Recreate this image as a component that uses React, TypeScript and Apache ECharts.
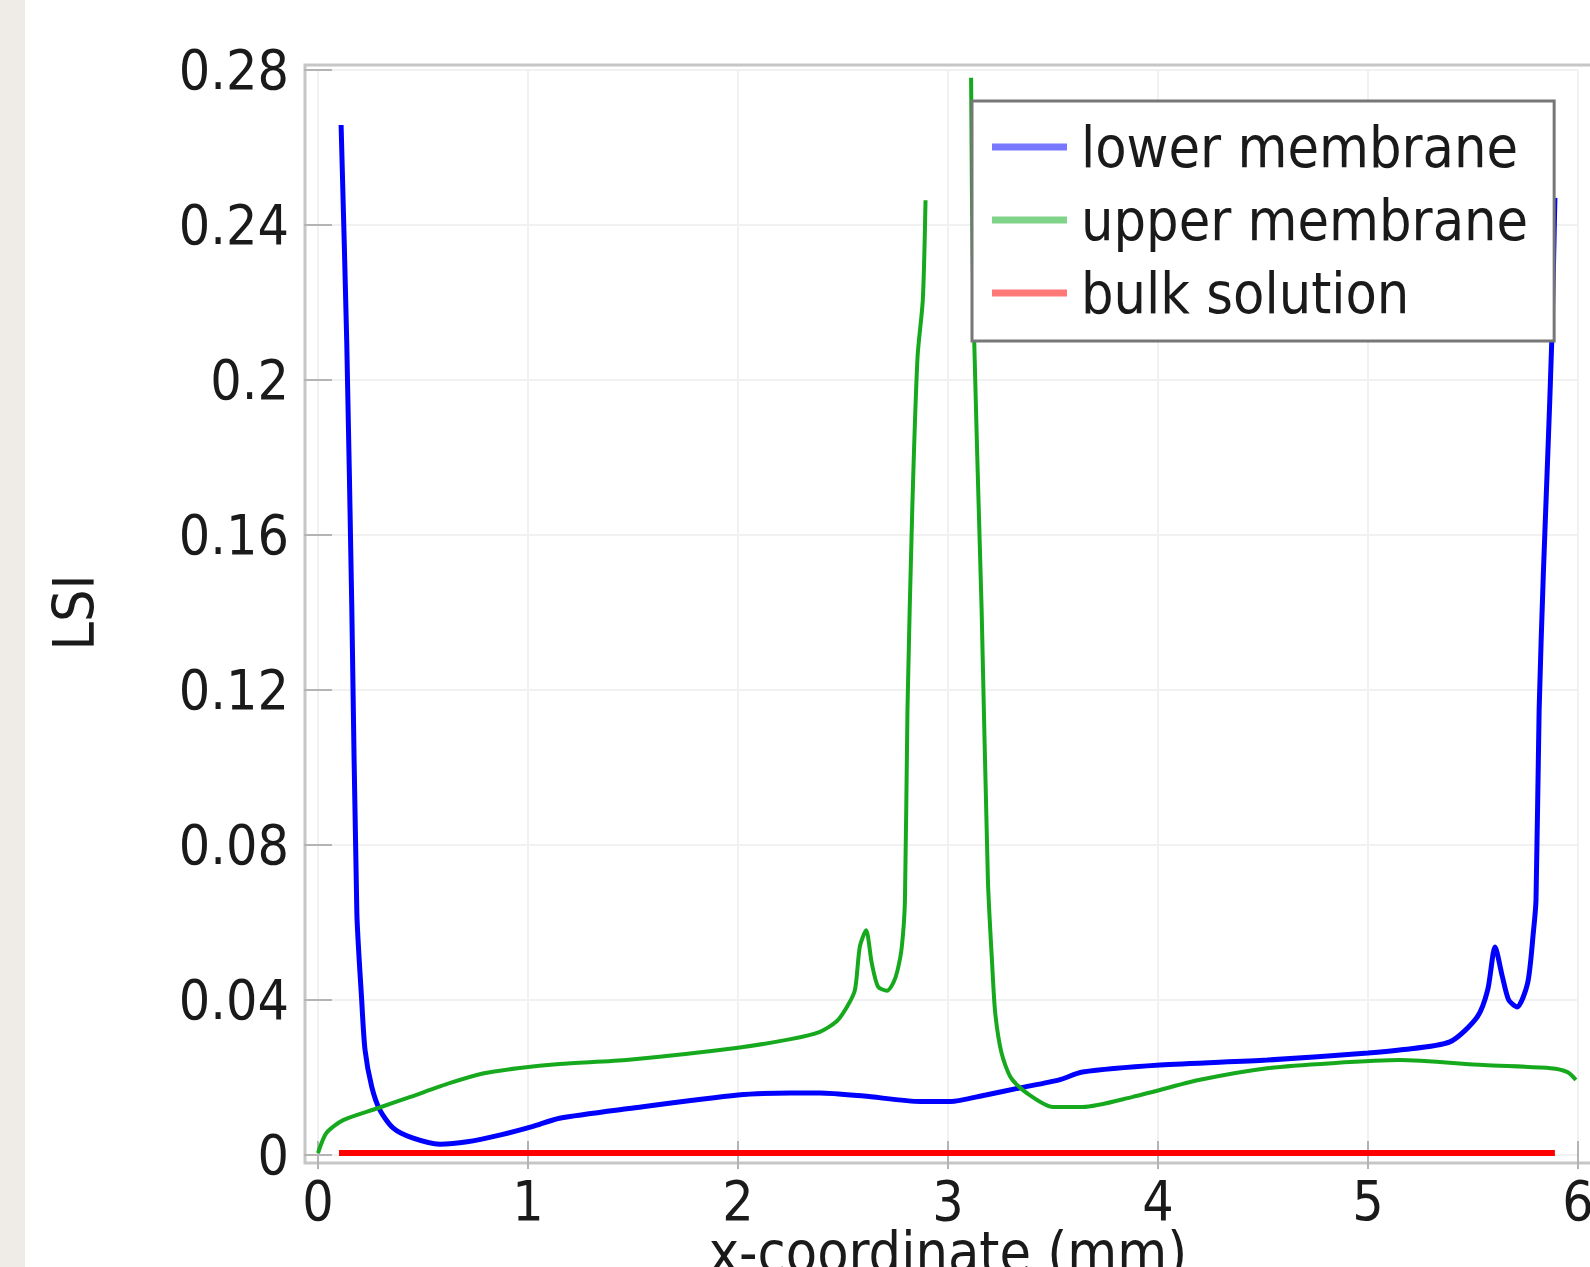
import React, { useEffect, useRef } from "react";
import * as echarts from "echarts";

// ---- data (x in mm, y = LSI) ----
const xLower = [0.11, 0.137, 0.161, 0.185, 0.208, 0.224, 0.256, 0.295, 0.357, 0.45, 0.58, 0.71, 0.87, 1.02, 1.15, 1.48, 2.0, 2.25, 2.39, 2.6, 2.87, 3.01, 3.18, 3.34, 3.53, 3.64, 4.01, 4.52, 5.0, 5.15, 5.39, 5.52, 5.57, 5.605, 5.64, 5.67, 5.71, 5.76, 5.787, 5.8, 5.815, 5.835, 5.857, 5.875, 5.89];
const yLower = [0.2658, 0.2095, 0.141, 0.0625, 0.04, 0.0271, 0.0176, 0.0116, 0.007, 0.0044, 0.0028, 0.0034, 0.0052, 0.0073, 0.0095, 0.012, 0.0155, 0.016, 0.016, 0.0152, 0.0138, 0.0138, 0.0155, 0.0173, 0.0194, 0.0214, 0.0232, 0.0245, 0.0263, 0.0271, 0.0292, 0.0356, 0.0426, 0.0537, 0.046, 0.04, 0.0382, 0.0443, 0.0572, 0.0658, 0.115, 0.15, 0.182, 0.21, 0.247];

const xUpper = [0, 0.04, 0.12, 0.28, 0.44, 0.63, 0.79, 0.95, 1.15, 1.48, 2.0, 2.25, 2.39, 2.47, 2.52, 2.557, 2.58, 2.61, 2.637, 2.667, 2.71, 2.74, 2.76, 2.78, 2.795, 2.807, 2.83, 2.855, 2.88, 2.893, 3.0, 3.11, 3.12, 3.16, 3.19, 3.21, 3.225, 3.255, 3.3, 3.375, 3.5, 3.64, 3.88, 4.2, 4.52, 4.83, 5.15, 5.55, 5.87, 5.95, 5.99];
const yUpper = [0.0005, 0.0057, 0.009, 0.012, 0.015, 0.0186, 0.0211, 0.0224, 0.0235, 0.0246, 0.0277, 0.0299, 0.0318, 0.0345, 0.0383, 0.0426, 0.0537, 0.058, 0.0495, 0.0434, 0.0424, 0.0445, 0.0477, 0.0537, 0.0658, 0.115, 0.167, 0.206, 0.2206, 0.2464, null, 0.278, 0.22, 0.141, 0.071, 0.0495, 0.0366, 0.0263, 0.0199, 0.016, 0.0124, 0.0124, 0.015, 0.0194, 0.0224, 0.0237, 0.0245, 0.0232, 0.0224, 0.0214, 0.0194];

const xBulk = [0.1, 1, 2, 3, 4, 5, 5.89];
const yBulk = [0.0005, 0.0005, 0.0005, 0.0005, 0.0005, 0.0005, 0.0005];

const seriesNames = ["lower membrane", "upper membrane", "bulk solution"];
const seriesColors = ["#0000ff", "#16a91e", "#ff0000"];
const legendColors = ["#7878ff", "#7fd48a", "#ff7878"];

const xAxisTitle = "x-coordinate (mm)";
const yAxisTitle = "LSI";

const FONT = "'DejaVu Sans Condensed', 'DejaVu Sans', sans-serif";

const zip = (xs: number[], ys: (number | null)[]) =>
  xs.map((x, i) => [x, ys[i] === null ? "-" : ys[i]]);

export default function App() {
  const ref = useRef<HTMLDivElement>(null);
  useEffect(() => {
    const chart = echarts.init(ref.current!, null, { renderer: "svg" });
    const fmtY = (v: number) => String(+v.toFixed(2));
    const tickStyle = { show: true, inside: true, length: 14, lineStyle: { color: "#b4b4b4", width: 2 } };
    const labelStyle = { color: "#1a1a1a", fontSize: 55, fontFamily: FONT };
    const option: any = {
      animation: false,
      backgroundColor: "#ffffff",
      grid: { left: 318, right: 12, top: 70, bottom: 112, containLabel: false, outerBoundsMode: "none" },
      graphic: [
        { type: "rect", z: -10, shape: { x: 0, y: 0, width: 25, height: 1267 }, style: { fill: "#efebe6" } },
        { type: "rect", z: 0, shape: { x: 305, y: 65, width: 1287, height: 1098 }, style: { fill: "none", stroke: "#c6c6c6", lineWidth: 3 } },
      ],
      xAxis: [
        {
          type: "value", min: 0, max: 6, interval: 1, position: "bottom", offset: 8,
          axisLine: { show: false }, axisTick: tickStyle,
          axisLabel: { ...labelStyle, margin: 10 },
          splitLine: { show: true, lineStyle: { color: "#f1f1f1", width: 2 } },
          name: xAxisTitle, nameLocation: "middle", nameGap: 60, nameMoveOverlap: false,
          nameTextStyle: { color: "#1a1a1a", fontSize: 57, fontFamily: FONT },
        },
        {
          type: "value", min: 0, max: 6, interval: 1, position: "top", offset: 5,
          axisLine: { show: false }, axisTick: tickStyle, axisLabel: { show: false }, splitLine: { show: false },
        },
      ],
      yAxis: [
        {
          type: "value", min: 0, max: 0.28, interval: 0.04, position: "left", offset: 13,
          axisLine: { show: false }, axisTick: tickStyle,
          axisLabel: { ...labelStyle, margin: 16, formatter: fmtY },
          splitLine: { show: true, lineStyle: { color: "#f1f1f1", width: 2 } },
          name: yAxisTitle, nameLocation: "middle", nameGap: 203,
          nameTextStyle: { color: "#1a1a1a", fontSize: 57, fontFamily: FONT },
        },
        {
          type: "value", min: 0, max: 0.28, interval: 0.04, position: "right", offset: 14,
          axisLine: { show: false }, axisTick: tickStyle, axisLabel: { show: false }, splitLine: { show: false },
        },
      ],
      legend: {
        orient: "vertical",
        left: 972, top: 101,
        padding: [16, 26, 18, 20],
        backgroundColor: "#ffffff",
        borderColor: "#777777",
        borderWidth: 3,
        borderRadius: 0,
        icon: "rect",
        itemWidth: 75, itemHeight: 7, itemGap: 13,
        textStyle: { fontSize: 57, fontFamily: FONT, color: "#1a1a1a", lineHeight: 60, padding: [0, 0, 0, 9] },
        data: seriesNames.map((n, i) => ({ name: n, itemStyle: { color: legendColors[i] } })),
        z: 10,
      },
      series: [
        {
          name: seriesNames[0], type: "line", data: zip(xLower, yLower), showSymbol: false, symbol: "none",
          smooth: 0.25, lineStyle: { color: seriesColors[0], width: 5 }, itemStyle: { color: seriesColors[0] }, z: 3,
        },
        {
          name: seriesNames[1], type: "line", data: zip(xUpper, yUpper), showSymbol: false, symbol: "none",
          smooth: 0.25, connectNulls: false, lineStyle: { color: seriesColors[1], width: 4 }, itemStyle: { color: seriesColors[1] }, z: 3,
        },
        {
          name: seriesNames[2], type: "line", data: zip(xBulk, yBulk), showSymbol: false, symbol: "none",
          lineStyle: { color: seriesColors[2], width: 6 }, itemStyle: { color: seriesColors[2] }, z: 3,
        },
      ],
    };
    chart.setOption(option);
    return () => chart.dispose();
  }, []);
  return (
    <div
      ref={ref}
      style={{ position: "fixed", left: 0, top: 0, width: 1590, height: 1267, background: "#ffffff" }}
    />
  );
}
